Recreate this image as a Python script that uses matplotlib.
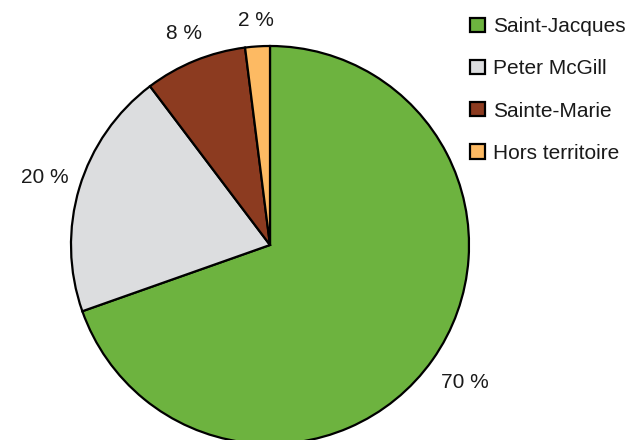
import matplotlib
matplotlib.use("Agg")
import numpy as np
import matplotlib.pyplot as plt
from matplotlib.patches import Patch

categories = ["Saint-Jacques", "Peter McGill", "Sainte-Marie", "Hors territoire"]
values = [69.6, 20.1, 8.3, 2.0]
pct_labels = ["70 %", "20 %", "8 %", "2 %"]
colors = ["#6DB33F", "#DCDDDF", "#8C3B20", "#FDBA63"]
label_dist = [1.2, 1.18, 1.15, 1.13]

plt.rcParams['font.family'] = ['Liberation Sans', 'DejaVu Sans']

W, H = 638, 440
fig = plt.figure(figsize=(W / 100, H / 100), dpi=100)
cx, cy, r = 270, 245, 199
ax = fig.add_axes([(cx - r) / W, (H - cy - r) / H, 2 * r / W, 2 * r / H])
wedges, _ = ax.pie(
    values, colors=colors, startangle=90, counterclock=False,
    wedgeprops=dict(edgecolor="black", linewidth=1.6))
for w, lab, d in zip(wedges, pct_labels, label_dist):
    w.set_clip_on(False)
    ang = np.deg2rad((w.theta1 + w.theta2) / 2)
    ax.text(d * np.cos(ang), d * np.sin(ang), lab, ha="center", va="center",
            fontsize=15, color="#1a1a1a", clip_on=False)
ax.set_xlim(-1, 1)
ax.set_ylim(-1, 1)
ax.set_aspect("auto")
ax.axis("off")

handles = [Patch(facecolor=c, edgecolor="black", linewidth=1.6) for c in colors]
fig.legend(handles, categories, loc="upper left", bbox_to_anchor=(462 / W, 1 - 9 / H),
           frameon=False, fontsize=15, handlelength=0.68, handleheight=0.68,
           handletextpad=0.4, labelspacing=1.11, borderaxespad=0,
           labelcolor="#1a1a1a")

fig.savefig("out.png", dpi=100)
